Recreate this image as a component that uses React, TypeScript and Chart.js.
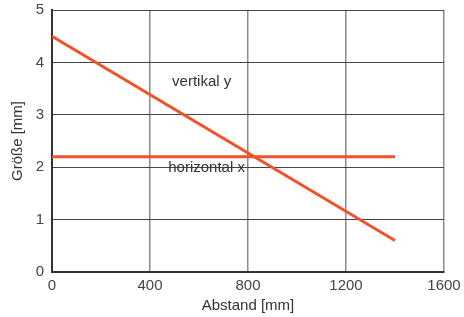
import React, { useEffect, useRef } from "react";
import { Chart, registerables } from "chart.js";

Chart.register(...registerables);

const distances = [0, 1400];
const verticalY = [4.5, 0.6];
const horizontalX = [2.2, 2.2];
const seriesNames = ["vertikal y", "horizontal x"];
const labelX = [611, 631];
const labelY = [3.63, 1.98];
const xTicks = [0, 400, 800, 1200, 1600];
const yTicks = [0, 1, 2, 3, 4, 5];

const FONT = "'Liberation Sans', Helvetica, Arial, sans-serif";
const LINE_COLOR = "#f0522a";

const labelPlugin = {
  id: "seriesLabels",
  afterDatasetsDraw(chart: any) {
    const { ctx, scales } = chart;
    ctx.save();
    ctx.font = `15px ${FONT}`;
    ctx.fillStyle = "#333";
    ctx.textAlign = "center";
    ctx.textBaseline = "middle";
    seriesNames.forEach((name, i) => {
      ctx.fillText(name, scales.x.getPixelForValue(labelX[i]), scales.y.getPixelForValue(labelY[i]));
    });
    ctx.restore();
  },
};

export default function App() {
  const ref = useRef<HTMLCanvasElement>(null);
  useEffect(() => {
    if (!ref.current) return;
    const chart = new Chart(ref.current, {
      type: "line",
      data: {
        datasets: [
          {
            label: seriesNames[0],
            data: distances.map((x, i) => ({ x, y: verticalY[i] })),
            borderColor: LINE_COLOR,
            borderWidth: 3,
            pointRadius: 0,
            fill: false,
          },
          {
            label: seriesNames[1],
            data: distances.map((x, i) => ({ x, y: horizontalX[i] })),
            borderColor: LINE_COLOR,
            borderWidth: 3,
            pointRadius: 0,
            fill: false,
          },
        ],
      },
      options: {
        responsive: false,
        animation: false,
        layout: { padding: { left: 0, top: 10, right: 20, bottom: 0 } },
        plugins: { legend: { display: false }, tooltip: { enabled: false } },
        scales: {
          x: {
            type: "linear",
            min: xTicks[0],
            max: xTicks[xTicks.length - 1],
            afterBuildTicks: (s: any) => {
              s.ticks = xTicks.map((v) => ({ value: v }));
            },
            afterFit: (s: any) => {
              s.height = 45;
              s.paddingLeft = 0;
              s.paddingRight = 0;
            },
            grid: { color: "#8a8a8a", lineWidth: 1.5, drawTicks: false },
            border: { color: "#333", width: 2 },
            ticks: {
              color: "#444",
              font: { family: FONT, size: 15 },
              padding: 5,
              maxRotation: 0,
              callback: (v: any) => String(v),
            },
            title: {
              display: true,
              text: "Abstand [mm]",
              color: "#333",
              font: { family: FONT, size: 15 },
              padding: { top: 0, bottom: 2 },
            },
          },
          y: {
            type: "linear",
            min: yTicks[0],
            max: yTicks[yTicks.length - 1],
            afterBuildTicks: (s: any) => {
              s.ticks = yTicks.map((v) => ({ value: v }));
            },
            afterFit: (s: any) => {
              s.width = 52;
              s.paddingTop = 0;
              s.paddingBottom = 0;
            },
            grid: { color: "#444", lineWidth: 1, drawTicks: false },
            border: { color: "#333", width: 2 },
            ticks: {
              color: "#444",
              font: { family: FONT, size: 15 },
              padding: 8,
              callback: (v: any) => String(v),
            },
            title: {
              display: true,
              text: "Größe [mm]",
              color: "#333",
              font: { family: FONT, size: 15 },
              padding: { top: 9, bottom: 0 },
            },
          },
        },
      },
      plugins: [labelPlugin],
    } as any);
    return () => chart.destroy();
  }, []);
  return (
    <div style={{ position: "absolute", left: 0, top: 0, width: 464, height: 317 }}>
      <canvas ref={ref} width={464} height={317} style={{ display: "block" }} />
    </div>
  );
}
